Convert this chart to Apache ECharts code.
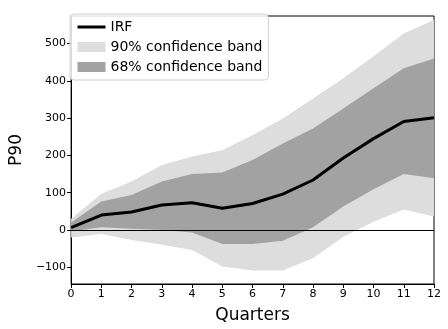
<!DOCTYPE html>
<html>
<head>
<meta charset="utf-8">
<script src="https://cdn.jsdelivr.net/npm/echarts@6/dist/echarts.min.js"></script>
<style>
  html, body { margin: 0; padding: 0; background: #fff; }
  #main { width: 448px; height: 329px; }
</style>
</head>
<body>
<div id="main"></div>
<script>
// values
const quarters = ['0', '1', '2', '3', '4', '5', '6', '7', '8', '9', '10', '11', '12']
const irf = [6, 40, 48, 67, 73, 58, 71, 96, 134, 193, 245, 291, 301]
const upper68 = [20, 76, 94, 130, 150, 154, 188, 232, 272, 326, 380, 434, 460]
const lower68 = [-4, 7, 3, 0, -7, -38, -38, -29, 7, 63, 109, 150, 139]
const upper90 = [30, 97, 130, 174, 197, 214, 255, 299, 353, 407, 466, 527, 563]
const lower90 = [-20, -11, -27, -40, -54, -98, -109, -109, -76, -18, 22, 55, 36]
const yTicks = [-100, 0, 100, 200, 300, 400, 500]

// band heights, stacked on top of the lower bound
const widths = (hi, lo) => hi.map((v, i) => v - lo[i])

const chart = echarts.init(document.getElementById('main'))

const baseSeries = (name, stack, data) => ({
  name: name,
  type: 'line',
  stack: stack,
  stackStrategy: 'all',
  data: data,
  symbol: 'none',
  lineStyle: { opacity: 0, width: 0 },
  silent: true
})

const bandSeries = (name, stack, data, color) => ({
  name: name,
  type: 'line',
  stack: stack,
  stackStrategy: 'all',
  data: data,
  symbol: 'none',
  itemStyle: { color: color },
  lineStyle: { width: 0, color: color },
  areaStyle: { color: color, opacity: 1 },
  silent: true
})

const option = {
  animation: false,
  textStyle: { fontFamily: 'DejaVu Sans' },
  grid: {
    left: 63, right: 14, top: 16, bottom: 45,
    show: true, borderColor: '#000', borderWidth: 1
  },
  legend: {
    orient: 'vertical',
    left: 70,
    top: 14,
    itemWidth: 28,
    itemHeight: 10,
    itemGap: 6,
    padding: [6, 6, 6, 6],
    borderColor: '#d0d0d0',
    borderWidth: 1,
    borderRadius: 4,
    backgroundColor: 'rgba(255,255,255,0.85)',
    textStyle: { fontSize: 14, color: '#000', fontFamily: 'DejaVu Sans' },
    data: [
      { name: 'IRF', itemStyle: { opacity: 0 }, lineStyle: { color: '#000', width: 3 } },
      { name: '90% confidence band', icon: 'rect', itemStyle: { color: '#dddddd' } },
      { name: '68% confidence band', icon: 'rect', itemStyle: { color: '#a2a2a2' } }
    ]
  },
  xAxis: {
    type: 'category',
    data: quarters,
    boundaryGap: false,
    name: 'Quarters',
    nameLocation: 'middle',
    nameGap: 23,
    nameTextStyle: { fontSize: 17, color: '#000' },
    axisLine: { onZero: false, lineStyle: { color: '#000' } },
    axisTick: { show: true, length: 4, alignWithLabel: true, lineStyle: { color: '#000' } },
    axisLabel: { fontSize: 11, color: '#000', margin: 5, interval: 0 },
    splitLine: { show: false }
  },
  yAxis: {
    type: 'value',
    min: -145,
    max: 574,
    name: 'P90',
    nameLocation: 'middle',
    nameGap: 38,
    nameTextStyle: { fontSize: 17, color: '#000' },
    axisLine: { show: true, lineStyle: { color: '#000' } },
    axisTick: { show: true, length: 4, customValues: yTicks, lineStyle: { color: '#000' } },
    axisLabel: {
      fontSize: 11, color: '#000', margin: 5,
      customValues: yTicks,
      formatter: v => (v < 0 ? '\u2212' + Math.abs(v) : String(v))
    },
    splitLine: { show: false }
  },
  series: [
    baseSeries('lo90', 'b90', lower90),
    bandSeries('90% confidence band', 'b90', widths(upper90, lower90), '#dddddd'),
    baseSeries('lo68', 'b68', lower68),
    bandSeries('68% confidence band', 'b68', widths(upper68, lower68), '#a2a2a2'),
    {
      name: 'IRF',
      type: 'line',
      data: irf,
      symbol: 'none',
      itemStyle: { color: '#000' },
      lineStyle: { color: '#000', width: 3 },
      z: 5,
      markLine: {
        silent: true,
        symbol: ['none', 'none'],
        label: { show: false },
        lineStyle: { color: '#000', width: 1, type: 'solid' },
        data: [{ yAxis: 0 }]
      }
    }
  ]
}

chart.setOption(option)
</script>
</body>
</html>
